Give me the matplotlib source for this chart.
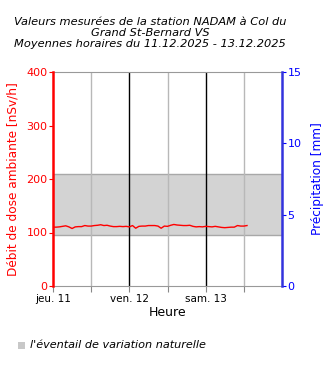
import matplotlib
matplotlib.use("Agg")
import matplotlib.pyplot as plt
import numpy as np
import pandas as pd

# Data
start = "2025-12-11 00:00"
dose_values = [110, 110, 110.5, 111.5, 112.5, 110.5, 107.5, 110.5, 111, 111,
               113, 112, 112, 113, 113.5, 114.5, 113, 113.5, 112, 111,
               111, 111.5, 111, 111.5, 110.5, 113, 108, 111.5, 112, 112,
               113, 113, 113, 112, 108, 112, 111.5, 113.5, 115, 114,
               113.5, 113, 113, 113.5, 111.5, 110.5, 111, 110.5, 111.5, 111,
               110.5, 111.5, 110.5, 109.5, 109, 109.5, 110, 110, 113, 112,
               112, 113]
band_low, band_high = 96, 210
day_labels = ["jeu. 11", "ven. 12", "sam. 13"]

times = pd.date_range(start, periods=len(dose_values), freq="h")
t0 = pd.Timestamp(start)
xt = [(t - t0) / pd.Timedelta(hours=1) for t in times]

fig = plt.figure(figsize=(3.3, 3.7), dpi=100)
ax = fig.add_axes([53/330, 1-286/370, (282-53)/330, (286-72)/370])
ax2 = ax.twinx()

ax.set_xlim(0, 72)
ax.set_ylim(0, 400)
ax2.set_ylim(0, 15)

# band
ax.axhspan(band_low, band_high, facecolor="#d3d3d3", edgecolor="#a8a8a8", lw=1, zorder=0)

# vertical lines
for h in [12, 36, 60]:
    ax.axvline(h, color="#b8b8b8", lw=1, zorder=1)
for h in [24, 48]:
    ax.axvline(h, color="black", lw=1, zorder=1)

ax.plot(xt, dose_values, color="red", lw=1, zorder=3)

# ticks
ax.set_xticks(np.arange(0, 72, 12))
ax.set_xticklabels([day_labels[0], "", day_labels[1], "", day_labels[2], ""], fontsize=7.5)
ax.tick_params(axis="x", length=4, color="#888888", pad=2)
ax.set_yticks([0, 100, 200, 300, 400])
ax.tick_params(axis="y", colors="red", labelsize=8, length=3, pad=1)
ax2.set_yticks([0, 5, 10, 15])
ax2.tick_params(axis="y", colors="blue", labelsize=8, length=3, pad=1)

for s in ["top", "bottom"]:
    ax.spines[s].set_color("#999999")
    ax2.spines[s].set_visible(False)
ax.spines["right"].set_visible(False)
ax.spines["left"].set_visible(False)
ax2.spines["left"].set_color("red")
ax2.spines["left"].set_linewidth(1.8)
ax2.spines["right"].set_color("#3333dd")
ax2.spines["right"].set_linewidth(1.8)

ax.set_ylabel("Débit de dose ambiante [nSv/h]", color="red", fontsize=8.7, labelpad=5)
ax2.set_ylabel("Précipitation [mm]", color="blue", fontsize=8.7, labelpad=7)
ax.set_xlabel("Heure", fontsize=9, labelpad=1)

fig.text(150/330, 1-33/370,
         "Valeurs mesurées de la station NADAM à Col du\nGrand St-Bernard VS\nMoyennes horaires du 11.12.2025 - 13.12.2025",
         ha="center", va="center", fontsize=8.2, style="italic", linespacing=1.1)

# legend
fig.patches.append(plt.Rectangle((18/330, 1-349/370), 7/330, 7/370, transform=fig.transFigure,
                                 facecolor="#c8c8c8", edgecolor="none"))
fig.text(30/330, 1-345/370, "l'éventail de variation naturelle", fontsize=8.1, style="italic",
         ha="left", va="center")

fig.savefig("out.png", dpi=100)
